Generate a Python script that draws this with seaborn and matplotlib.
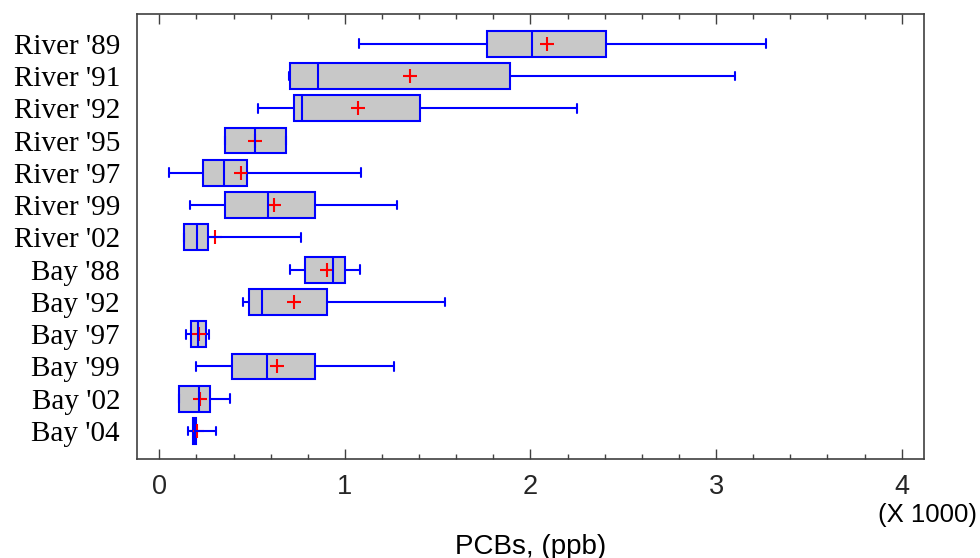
import numpy as np
import pandas as pd
import matplotlib
matplotlib.use("Agg")
import matplotlib.pyplot as plt
from matplotlib.ticker import MultipleLocator, FormatStrFormatter
import seaborn as sns

# ---- data (PCBs, ppb) ----
groups = ["River '89", "River '91", "River '92", "River '95", "River '97", "River '99",
          "River '02", "Bay '88", "Bay '92", "Bay '97", "Bay '99", "Bay '02", "Bay '04"]
whisker_low = [1078, 697, 530, 354, 54, 164, 131, 706, 451, 142, 196, 108, 156]
quartile_1  = [1764, 706, 728, 354, 235, 354, 131, 785, 481, 171, 393, 108, 180]
median      = [2010, 857, 769, 514, 347, 586, 205, 938, 555, 210, 579, 212, 190]
quartile_3  = [2409, 1891, 1407, 681, 474, 841, 261, 1000, 905, 253, 841, 275, 196]
whisker_high = [3269, 3102, 2249, 681, 1087, 1279, 762, 1080, 1541, 266, 1263, 381, 308]
mean_value  = [2087, 1351, 1071, 515, 438, 618, 300, 902, 728, 216, 632, 219, 201]
x_ticks = [0, 1, 2, 3, 4]

# five-number summaries as samples (quartiles reproduce exactly)
rows = []
for g, a, b, c, d, e in zip(groups, whisker_low, quartile_1, median, quartile_3, whisker_high):
    for v in (a, b, c, d, e):
        rows.append({"group": g, "pcb": v / 1000.0})
df = pd.DataFrame(rows)
mean_df = pd.DataFrame({"group": groups, "pcb": np.array(mean_value) / 1000.0})

sns.set_theme(style="white")
plt.rcParams["font.family"] = ["Liberation Sans", "DejaVu Sans"]

fig = plt.figure(figsize=(9.8, 5.58), dpi=100)
ax = fig.add_axes([136.7 / 980, 1 - 459 / 558, (923.7 - 136.7) / 980, (459 - 14) / 558])

blue = "#0000ff"
sns.boxplot(data=df, x="pcb", y="group", order=groups, whis=np.inf, width=0.8,
            color="#c8c8c8", linecolor=blue, linewidth=1.5, saturation=1,
            capwidths=0.27,
            whiskerprops=dict(zorder=3), capprops=dict(zorder=3),
            medianprops=dict(zorder=3), ax=ax)

sns.pointplot(data=mean_df, x="pcb", y="group", order=groups, color="red",
              markers="+", linestyles="none", errorbar=None,
              markersize=10, markeredgewidth=1.5, zorder=2.5, ax=ax)

ax.set_xlim(-0.122, 4.119)
ax.set_ylim(12.87, -0.924)

ax.xaxis.set_major_locator(MultipleLocator(1))
ax.xaxis.set_minor_locator(MultipleLocator(0.2))
ax.xaxis.set_major_formatter(FormatStrFormatter("%d"))
ax.set_xticks(x_ticks)
ax.tick_params(axis="x", which="both", direction="in", top=True, bottom=True,
               color="#404040", width=1, labelsize=19.5, pad=11)
ax.tick_params(axis="x", which="major", length=7)
ax.tick_params(axis="x", which="minor", length=3.5)
ax.tick_params(axis="y", which="both", left=False, length=0, pad=12)
for lab in ax.get_yticklabels():
    lab.set_fontfamily(["Liberation Serif", "DejaVu Serif"])
    lab.set_fontsize(21)
    lab.set_color("black")

for sp in ax.spines.values():
    sp.set_visible(True)
    sp.set_color("#404040")
    sp.set_linewidth(1.2)

ax.set_ylabel("")
ax.set_xlabel("PCBs, (ppb)", fontsize=20, color="black")
ax.xaxis.set_label_coords(0.5, -0.168)

fig.text(977 / 980, 1 - 515 / 558, "(X 1000)", ha="right", va="center",
         fontsize=18.5, color="black")

fig.savefig("out.png", dpi=100, facecolor="white")
